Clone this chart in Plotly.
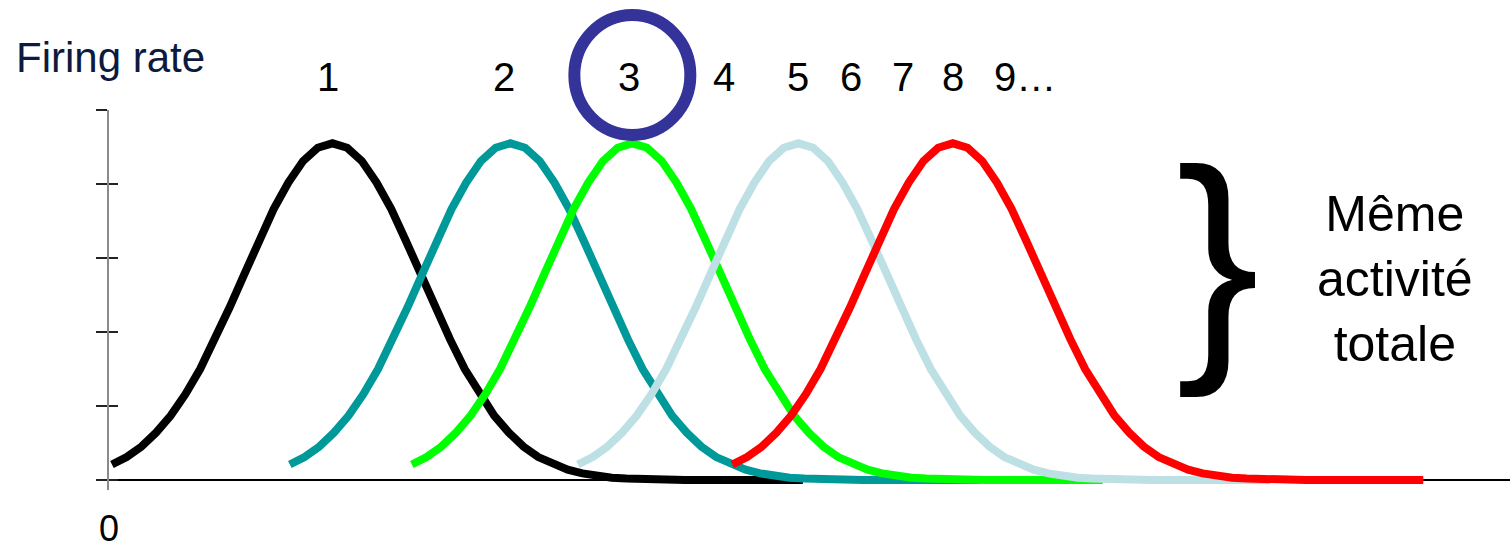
import plotly.graph_objects as go

# Stimulus axis: one unit = one sampling step of the tuning curves
offsets = list(range(-15, 33))
# Firing rate of one neuron along the stimulus axis, relative to its preferred stimulus
profile = [0.21, 0.31, 0.45, 0.64, 0.87, 1.16, 1.50, 1.90, 2.33, 2.78, 3.23, 3.66, 4.02, 4.31, 4.49,
           4.55,
           4.49, 4.31, 4.02, 3.66, 3.23, 2.78, 2.33, 1.90, 1.50, 1.16, 0.87, 0.64, 0.45, 0.31, 0.21,
           0.14, 0.09, 0.05, 0.03, 0.02, 0.01, 0.01,
           0, 0, 0, 0, 0, 0, 0, 0, 0, 0]

# Preferred stimulus of each drawn neuron and its colour
preferred = [15.2, 27.3, 35.6, 46.9, 57.4]
curve_colors = ["#000000", "#009999", "#00ff00", "#bde0e4", "#ff0000"]

# Neuron numbers written above the curves
neuron_labels = ["1", "2", "3", "4", "5", "6", "7", "8", "9…"]
neuron_label_x = [14.9, 26.9, 35.4, 41.8, 46.9, 50.5, 54.0, 57.4, 62.3]
highlighted = 2  # neuron 3 is circled

y_ticks = [0, 1, 2, 3, 4, 5]
x_range = [0, 95.3]
y_range = [-0.135, 5]

FONT = "Liberation Sans, Arial, sans-serif"

fig = go.Figure()

for pref, col in zip(preferred, curve_colors):
    fig.add_trace(go.Scatter(
        x=[pref + o for o in offsets],
        y=profile,
        mode="lines",
        line=dict(color=col, width=8),
        hoverinfo="skip",
        showlegend=False,
    ))

# empty trace so the secondary y axis (inner half of the ticks) is drawn
fig.add_trace(go.Scatter(x=[], y=[], yaxis="y2", showlegend=False))

annotations = [
    dict(text="Firing rate", xref="paper", yref="paper", x=-0.0678, y=1.138,
         xanchor="left", yanchor="middle", showarrow=False,
         font=dict(family=FONT, size=42, color="#0c1a40")),
    dict(text="0", xref="x", yref="paper", x=0, y=-0.101,
         xanchor="center", yanchor="middle", showarrow=False,
         font=dict(family=FONT, size=36, color="#000000")),
    dict(text="}", xref="paper", yref="paper", x=0.7914, y=0.6105,
         xanchor="center", yanchor="middle", showarrow=False,
         font=dict(family=FONT, size=250, color="#000000")),
    dict(text="Même<br>activité<br>totale", xref="paper", yref="paper", x=0.918, y=0.556,
         xanchor="center", yanchor="middle", showarrow=False, align="center",
         font=dict(family=FONT, size=50, color="#000000")),
]
for lab, lx in zip(neuron_labels, neuron_label_x):
    annotations.append(dict(
        text=lab, xref="x", yref="paper", x=lx, y=1.088,
        xanchor="center", yanchor="middle", showarrow=False,
        font=dict(family=FONT, size=40, color="#000000"),
    ))

shapes = [
    dict(type="circle", xref="x", xsizemode="pixel", xanchor=preferred[highlighted],
         x0=-58, x1=58, yref="paper", ysizemode="pixel", yanchor=1.0921,
         y0=-60, y1=60, line=dict(color="#333399", width=12)),
]

fig.update_layout(
    width=1510, height=551,
    margin=dict(l=109, r=0, t=110, b=61, pad=0),
    paper_bgcolor="white", plot_bgcolor="white",
    showlegend=False,
    annotations=annotations,
    shapes=shapes,
    xaxis=dict(range=x_range, showgrid=False, zeroline=False, showline=False,
               showticklabels=False, ticks=""),
    yaxis=dict(range=y_range, showgrid=False, zeroline=True, zerolinecolor="#000000",
               zerolinewidth=2, showline=True, linecolor="#8a8a8a", linewidth=2,
               ticks="outside", ticklen=11, tickwidth=1.5, tickcolor="#222222",
               tickvals=y_ticks, showticklabels=False),
    yaxis2=dict(range=y_range, overlaying="y", side="left", anchor="x",
                showgrid=False, zeroline=False, showline=False,
                ticks="inside", ticklen=9, tickwidth=1.5, tickcolor="#222222",
                tickvals=y_ticks, showticklabels=False),
)

fig.write_html("out.html")
